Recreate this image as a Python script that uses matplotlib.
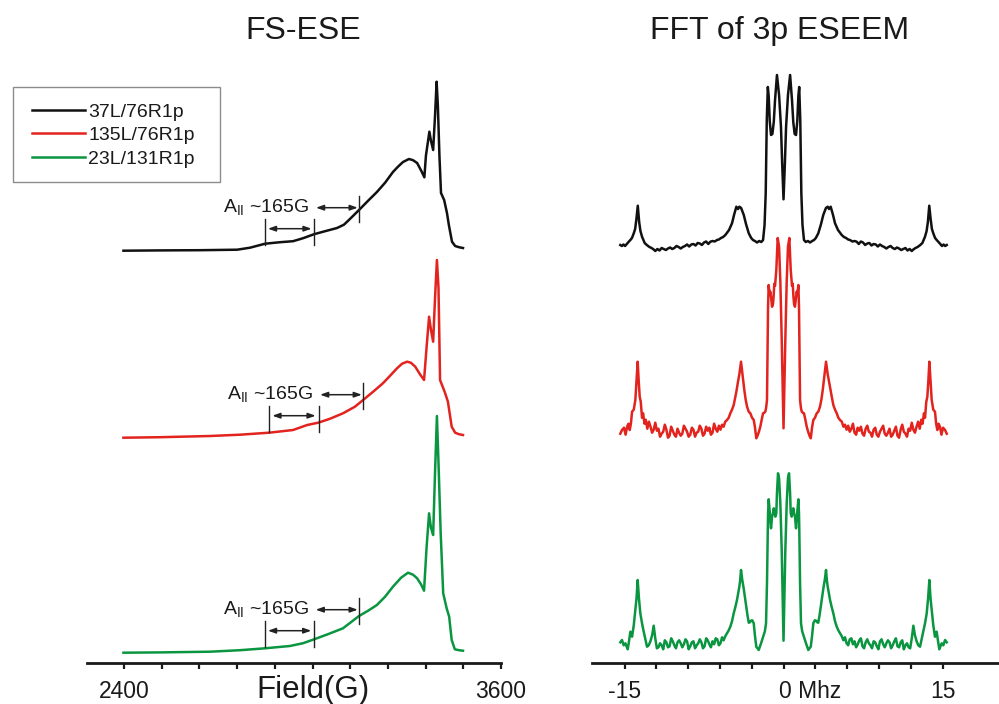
import numpy as np
import matplotlib
matplotlib.use("Agg")
import matplotlib.pyplot as plt
import matplotlib.transforms as mtransforms
from matplotlib.lines import Line2D
from matplotlib.patches import Rectangle

plt.rcParams['font.family'] = ['Liberation Sans', 'DejaVu Sans']
plt.rcParams['mathtext.fontset'] = 'custom'
plt.rcParams['mathtext.rm'] = 'Liberation Sans'
plt.rcParams['mathtext.it'] = 'Liberation Sans:italic'
plt.rcParams['mathtext.bf'] = 'Liberation Sans:bold'

# ---------------------------------------------------------------- data
samples = ["37L/76R1p", "135L/76R1p", "23L/131R1p"]

# Field-swept echo spectra (field in G, echo intensity in a.u.)
field_37 = [2398, 2515, 2642, 2760, 2801, 2849, 2897, 2938, 2970, 3005,
            3040, 3078, 3100, 3119, 3148, 3177, 3205, 3231, 3256, 3272,
            3288, 3307, 3320, 3333, 3346, 3356, 3361, 3372, 3377, 3384,
            3390, 3395, 3399, 3404, 3409, 3419, 3428, 3434, 3444, 3454,
            3466, 3479]
ese_37 = [0, 0.3, 0.5, 1, 3, 7, 8.5, 9.5, 12.5, 16.5,
          19.5, 22.7, 26, 31.7, 40.7, 50, 58.7, 68, 78.7, 84,
          88.7, 91.7, 90.5, 87.7, 80, 73.4, 95, 119, 110, 100.7,
          135, 169, 145, 95, 57.7, 50.7, 37.7, 25.7, 9, 4.7,
          3.5, 2.7]

field_135 = [2398, 2515, 2674, 2769, 2862, 2938, 2983, 3018, 3056, 3097,
             3135, 3161, 3193, 3224, 3247, 3269, 3285, 3301, 3313, 3327,
             3343, 3355, 3363, 3371, 3377, 3384, 3390, 3396, 3401, 3406,
             3422, 3431, 3443, 3454, 3466, 3479]
ese_135 = [0, 0.5, 1.7, 3, 5, 7.7, 12.7, 15, 19, 24.4,
           31, 37.7, 46, 54.4, 62, 69.4, 74, 76, 75, 71,
           63, 57.7, 90, 121, 108, 96, 140, 177.7, 150, 57.7,
           44.7, 36, 11, 5, 3.5, 2.7]

field_23 = [2398, 2515, 2674, 2769, 2849, 2928, 2970, 3005, 3049, 3097,
            3148, 3177, 3205, 3231, 3256, 3282, 3304, 3320, 3333, 3346,
            3355, 3363, 3371, 3377, 3384, 3390, 3396, 3401, 3408, 3416,
            3427, 3435, 3443, 3453, 3466, 3479]
ese_23 = [0, 0.3, 1, 2.5, 4.4, 6.7, 9.5, 13.4, 18.5, 24.4,
          36.7, 42, 47.7, 56, 66, 75, 80, 78, 74.4, 68,
          62, 105, 139.4, 125, 117.7, 180, 236.7, 190, 119.4, 59.4,
          44.4, 36, 12.7, 3.4, 2.5, 2]

# Field positions of the A|| markers on each spectrum (G)
apar_37 = [2849, 3006, 3149]
apar_135 = [2863, 3019, 3162]
apar_23 = [2849, 3005, 3149]

# FFT magnitude of 3p ESEEM, positive-frequency half (MHz, a.u.)
freq_37 = [0.00, 0.12, 0.24, 0.42, 0.62, 0.80, 0.92, 1.05, 1.18, 1.30,
           1.40, 1.48, 1.58, 1.68, 1.79, 1.93, 2.10, 2.30, 2.50, 2.70,
           2.88, 3.05, 3.28, 3.54, 3.75, 4.00, 4.17, 4.29, 4.45, 4.67,
           4.86, 5.14, 5.35, 5.49, 5.70, 5.90, 6.10, 6.27, 6.50, 6.70,
           6.90, 7.10, 7.30, 7.50, 7.70, 7.90, 8.10, 8.30, 8.50, 8.70,
           8.90, 9.10, 9.30, 9.50, 9.70, 9.90, 10.10, 10.30, 10.50, 10.70,
           10.90, 11.10, 11.30, 11.50, 11.70, 11.90, 12.10, 12.25, 12.45, 12.65,
           12.90, 13.10, 13.35, 13.50, 13.62, 13.75, 13.88, 14.00, 14.13, 14.30,
           14.45, 14.60, 14.75, 14.95, 15.10, 15.25, 15.40]
fft_37 = [46.7, 80, 119, 151, 171, 146, 124, 112, 111, 125,
          150, 159, 126, 53, 21, 6, 4, 5, 3.5, 5,
          6, 8, 12.7, 22, 31, 38, 39.3, 37, 39.3, 31,
          22.7, 16, 13, 11, 9, 8, 6.5, 6, 4.5, 5,
          4.3, 2, 4.5, 3.5, 1, 2.5, 3, 0.5, 2, 1.5,
          -0.5, 1.5, 0, -1, -2.5, -1, 0, -2, -3, -1.5,
          -2.5, -4, -3, -2, -4.5, -3, -5, -3.5, -2, -1,
          1, 3, 9.3, 15, 24, 40.3, 27, 17, 12.7, 8,
          6, 4.3, 2.5, 0, 1.5, 0, 1]

freq_135 = [0.00, 0.08, 0.17, 0.30, 0.42, 0.55, 0.68, 0.80, 0.87, 0.93,
            0.99, 1.08, 1.16, 1.24, 1.32, 1.40, 1.46, 1.51, 1.56, 1.64,
            1.72, 1.82, 1.93, 2.06, 2.19, 2.32, 2.45, 2.57, 2.69, 2.81,
            2.97, 3.13, 3.28, 3.44, 3.57, 3.70, 3.85, 4.01, 4.16, 4.32,
            4.45, 4.55, 4.70, 4.86, 5.02, 5.17, 5.33, 5.50, 5.65, 5.80,
            5.95, 6.10, 6.25, 6.40, 6.55, 6.70, 6.85, 7.00, 7.15, 7.30,
            7.45, 7.60, 7.75, 7.90, 8.05, 8.20, 8.35, 8.50, 8.65, 8.80,
            8.95, 9.10, 9.25, 9.40, 9.55, 9.70, 9.85, 10.00, 10.15, 10.30,
            10.45, 10.60, 10.75, 10.90, 11.05, 11.20, 11.35, 11.50, 11.65, 11.80,
            11.95, 12.10, 12.25, 12.40, 12.55, 12.70, 12.85, 13.00, 13.12, 13.25,
            13.35, 13.47, 13.57, 13.67, 13.76, 13.87, 13.98, 14.13, 14.29, 14.40,
            14.51, 14.63, 14.76, 14.90, 15.05, 15.24, 15.40]
fft_135 = [3.4, 45, 92, 150, 185, 193.7, 161.7, 146, 148, 136,
           128, 125, 133, 140, 138, 146.7, 125, 80, 31.7, 24,
           20, 19, 18.4, 12, 5, 0, -4, -6.6, 4, 11.7,
           14, 18.4, 20, 25, 32, 41.7, 55, 70, 58, 48.4,
           40, 35, 26.7, 22, 18.4, 14, 11.7, 10, 5, 7,
           2, 6, 0, 3, 8, -1, -3, 4, 1, 5,
           -2, -4, 3, 6, 0, -1, -5, 2, 4, -3,
           -5, 0, 3, 6, -2, -4, -1, 3, -5, -3,
           1, 5, -4, -6, 2, 7, 0, -2, -5, 3,
           1, 9, 2, -1, 5, 10, 3, 12, 8, 18.4,
           14, 30, 35, 52, 70, 50, 31.7, 22, 20, 8,
           1.7, 8, 5, -3, 4, 1.7, -2]

freq_23 = [0.00, 0.08, 0.17, 0.30, 0.42, 0.52, 0.62, 0.68, 0.77, 0.85,
           0.92, 1.00, 1.08, 1.18, 1.24, 1.30, 1.40, 1.46, 1.49, 1.56,
           1.65, 1.76, 1.87, 2.00, 2.12, 2.34, 2.57, 2.70, 2.81, 2.95,
           3.07, 3.18, 3.28, 3.40, 3.51, 3.64, 3.76, 3.90, 4.01, 4.10,
           4.17, 4.28, 4.39, 4.55, 4.70, 4.86, 5.02, 5.17, 5.33, 5.50,
           5.65, 5.80, 5.95, 6.10, 6.25, 6.40, 6.55, 6.70, 6.85, 7.00,
           7.15, 7.30, 7.45, 7.60, 7.75, 7.90, 8.05, 8.20, 8.35, 8.50,
           8.65, 8.80, 8.95, 9.10, 9.25, 9.40, 9.55, 9.70, 9.85, 10.00,
           10.15, 10.30, 10.45, 10.60, 10.75, 10.90, 11.05, 11.20, 11.35, 11.50,
           11.65, 11.80, 11.95, 12.10, 12.25, 12.40, 12.57, 12.72, 12.88, 13.03,
           13.19, 13.35, 13.51, 13.64, 13.76, 13.87, 13.98, 14.13, 14.29, 14.37,
           14.45, 14.58, 14.70, 14.92, 15.08, 15.24, 15.40]
fft_23 = [2.6, 45, 93, 140, 165, 170, 150, 130, 126.7, 131,
          135, 130, 126.7, 115, 122, 131.7, 144, 130, 113, 60,
          20, 12, 8.3, 4, 0, -6.7, -3.4, 8, 20, 23,
          22.6, 21, 20.6, 28, 36.6, 46, 55, 64, 73.3, 62,
          56.6, 50, 43.3, 36, 30, 22, 16.6, 13, 10, 7,
          3, 6, 0, -2, 4, 5, -1, 2, -4, -1,
          3, 5, -3, -5, 1, 4, 0, -2, -5, 2,
          1, -3, -6, 2, 4, -1, -4, 0, 3, 1,
          -5, -2, 2, 5, -3, -4, 1, 3, -6, -2,
          0, -4, -5, 5, 17.6, 8, 1.6, -2, -3.4, 4,
          11.6, 20, 30, 45, 63.3, 45, 33.3, 18, 6.6, 9,
          11.6, 2, -6, 0, -2, 3.3, 1]

field_ticks = [2400, 2520, 2640, 2760, 2880, 3000, 3120, 3240, 3360, 3480, 3600]
field_ticklabels = ["2400", "", "", "", "", "Field(G)", "", "", "", "", "3600"]
freq_ticks = [-15, -12, -9, -6, -3, 0, 3, 6, 9, 12, 15]
freq_ticklabels = ["-15", "", "", "", "", "0 Mhz", "", "", "", "", "15"]

# ---------------------------------------------------------------- style
colors = ["#111111", "#E2231E", "#0A9640"]
ese_offsets = [412.3, 225.3, 10.3]
fft_offsets = [417.0, 231.3, 19.7]
ANN = "#222222"
W, H = 999, 704


def full_spectrum(freq, amp):
    """Magnitude spectrum of a real signal is even in frequency."""
    f = np.asarray(freq, float)
    a = np.asarray(amp, float)
    return np.concatenate([-f[:0:-1], f]), np.concatenate([a[:0:-1], a])


def style_axis(ax):
    for side in ("left", "right", "top"):
        ax.spines[side].set_visible(False)
    ax.spines["bottom"].set_linewidth(2.0)
    ax.spines["bottom"].set_color("#1a1a1a")
    ax.set_yticks([])
    ax.tick_params(axis="x", direction="out", length=4.5, width=1.6,
                   color="#1a1a1a", pad=17, labelsize=16.5,
                   labelcolor="#1a1a1a")


def mark_a_parallel(ax, marks, base):
    m1, m2, m3 = marks
    for m in (m1, m2):
        ax.plot([m, m], [base + 6, base + 32], color=ANN, lw=1.0)
    ax.plot([m3, m3], [base + 29, base + 55], color=ANN, lw=1.0)
    arrow = dict(arrowstyle="<|-|>,head_length=0.45,head_width=0.16",
                 color=ANN, lw=1.1, shrinkA=0, shrinkB=0, mutation_scale=10)
    ax.annotate("", xy=(m2 - 9, base + 22), xytext=(m1 + 9, base + 22),
                arrowprops=arrow)
    ax.annotate("", xy=(m3 - 5, base + 43), xytext=(m2 + 5, base + 43),
                arrowprops=arrow)
    ax.text(m2 - 17, base + 38.5, r"A$_{\mathregular{II}}$ ~165G",
            ha="right", va="baseline", fontsize=14, color="#1a1a1a")


fig = plt.figure(figsize=(W / 100, H / 100), dpi=100)
fig.patch.set_facecolor("white")

# ---------------------------------------------------------------- FS-ESE
axL = fig.add_axes([87 / W, 41 / H, 414 / W, 603 / H])
style_axis(axL)
axL.set_xlim(2282, 3600)
axL.set_ylim(0, 603)

ese_fields = [field_37, field_135, field_23]
ese_data = [ese_37, ese_135, ese_23]
apar = [apar_37, apar_135, apar_23]
for fld, val, off, col, mk in zip(ese_fields, ese_data, ese_offsets, colors, apar):
    axL.plot(fld, np.asarray(val) + off, color=col, lw=1.8,
             solid_joinstyle="round")
    mark_a_parallel(axL, mk, off)

axL.set_xticks(field_ticks)
axL.set_xticklabels(field_ticklabels, va="baseline")
axL.tick_params(axis="x", pad=21)
axL.get_xticklabels()[5].set_fontsize(22.5)

# ---------------------------------------------------------------- FFT
axR = fig.add_axes([592 / W, 41 / H, 407 / W, 603 / H])
style_axis(axR)
axR.set_xlim(-18.07, 20.33)
axR.set_ylim(0, 603)

fft_freqs = [freq_37, freq_135, freq_23]
fft_data = [fft_37, fft_135, fft_23]
for fr, val, off, col in zip(fft_freqs, fft_data, fft_offsets, colors):
    f, a = full_spectrum(fr, val)
    axR.plot(f, a + off, color=col, lw=1.8, solid_joinstyle="round")

axR.set_xticks(freq_ticks)
axR.set_xticklabels(freq_ticklabels, va="baseline")
axR.tick_params(axis="x", pad=21)
zero_lab = axR.get_xticklabels()[5]
zero_lab.set_ha("left")
zero_lab.set_transform(zero_lab.get_transform() +
                       mtransforms.ScaledTranslation(-5 / 100, 0, fig.dpi_scale_trans))

# ---------------------------------------------------------------- titles
fig.text(303 / W, 1 - 31 / H, "FS-ESE", ha="center", va="center",
         fontsize=23, color="#1a1a1a")
fig.text(780 / W, 1 - 31 / H, "FFT of 3p ESEEM", ha="center", va="center",
         fontsize=23, color="#1a1a1a")

# ---------------------------------------------------------------- legend
def fx(px):
    return px / W


def fy(py):
    return 1 - py / H


fig.add_artist(Rectangle((fx(12.7), fy(181.7)), 207.3 / W, 94.4 / H,
                         transform=fig.transFigure, fill=True,
                         facecolor="white", edgecolor="#8c8c8c", lw=1.0))
rows = [110, 133, 157]
for name, col, ry in zip(samples, colors, rows):
    fig.add_artist(Line2D([fx(32), fx(85)], [fy(ry), fy(ry)],
                          transform=fig.transFigure, color=col, lw=1.8))
    fig.text(fx(88), fy(ry + 7), name, ha="left", va="baseline",
             fontsize=14, color="#1a1a1a")

fig.savefig("out.png", dpi=100, facecolor="white")
